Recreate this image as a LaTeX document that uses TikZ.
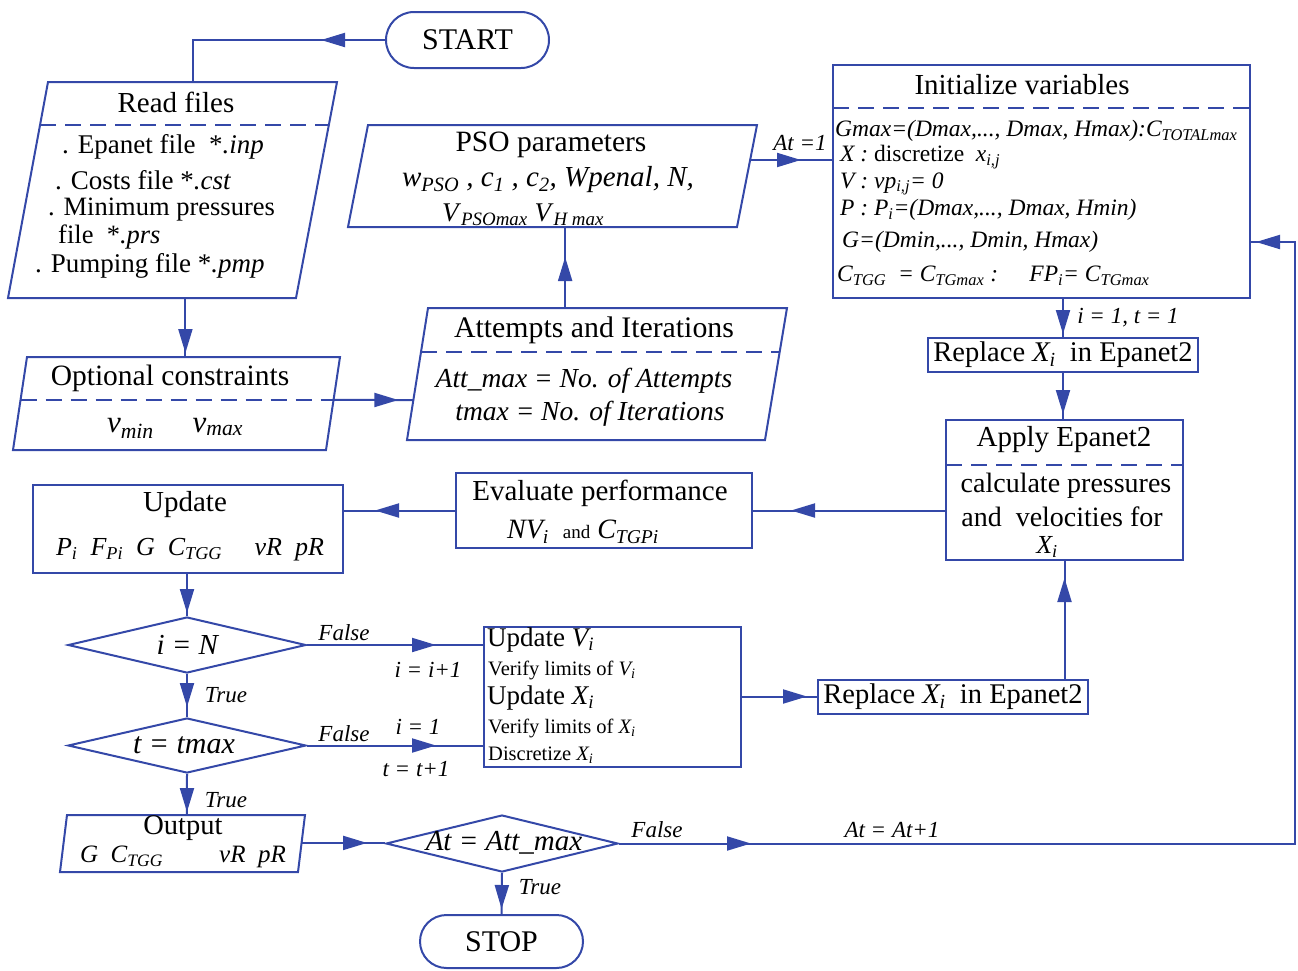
\documentclass[tikz,border=0pt]{standalone}
\usepackage{fontspec}
\setmainfont{Liberation Serif}
\usetikzlibrary{arrows.meta,decorations.markings,calc,shapes.geometric,shapes.misc}
\definecolor{fb}{RGB}{52,72,168}
\newcommand\ssb[1]{\textsubscript{#1}}
\newcommand\fsz[1]{\fontsize{#1}{#1}\selectfont}
\begin{document}
\begin{tikzpicture}[x=1pt,y=-1pt,
  ln/.style={draw=fb,line width=2pt},
  dsh/.style={draw=fb,line width=1.8pt,dash pattern=on 16pt off 9pt},
  rbox/.style={draw=fb,line width=2pt,inner sep=0pt},
  conn/.style={draw=fb,color=fb,line width=2pt},
  ma/.style={postaction={decorate,decoration={markings,mark=at position #1 with {\arrow{Triangle[length=24pt,width=14pt]}}}}},
  mb/.style 2 args={postaction={decorate,decoration={markings,mark=at position #1 with {\arrow{Triangle[length=24pt,width=14pt]}},mark=at position #2 with {\arrow{Triangle[length=24pt,width=14pt]}}}}},
  tt/.style={font=\fsz{29},inner sep=0pt},
  bd/.style={font=\fsz{27},inner sep=0pt},
  sm/.style={font=\fsz{23.5}\itshape,inner sep=0pt},
  lb/.style={font=\fsz{23}\itshape,inner sep=0pt},
  xs/.style={font=\fsz{20.5},inner sep=0pt},
  dia/.style={diamond,draw=fb,line width=2pt,inner sep=0pt}
]
\useasboundingbox (0,0) rectangle (1298,970);

% START
\node[rounded rectangle,draw=fb,line width=2pt,minimum width=163pt,minimum height=56pt,inner sep=0pt,font=\fsz{30}] (start) at (467.5,40) {START};

% Read files
\coordinate (rf-tl) at (48,82);
\coordinate (rf-tr) at (337,82);
\coordinate (rf-br) at (296,298);
\coordinate (rf-bl) at (8,298);
\draw[ln] (rf-tl) -- (rf-tr) -- (rf-br) -- (rf-bl) -- cycle;
\draw[dsh] ($(rf-tl)!0.2!(rf-bl)$) -- ($(rf-tr)!0.2!(rf-br)$);
\node[tt] (rf-t) at (176,102) {Read files};
\node[bd,anchor=west] (rf-1) at (62,147) {. Epanet file \ *\textit{.inp}};
\node[bd,anchor=west] (rf-2) at (55,180) {. Costs file *\textit{.cst}};
\node[font=\fsz{26.5},inner sep=0pt,anchor=west] (rf-3) at (48,210) {. Minimum pressures};
\node[font=\fsz{26.5},inner sep=0pt,anchor=west] (rf-4) at (58,237) {file \ *\textit{.prs}};
\node[bd,anchor=west] (rf-5) at (35,266) {. Pumping file *\textit{.pmp}};
\coordinate (rf-top) at ($(rf-tl)!0.5!(rf-tr)$);
\coordinate (rf-bot) at ($(rf-bl)!0.616!(rf-br)$);

% Optional constraints
\coordinate (op-tl) at (27,357);
\coordinate (op-tr) at (340,357);
\coordinate (op-br) at (326,450);
\coordinate (op-bl) at (13,450);
\draw[ln] (op-tl) -- (op-tr) -- (op-br) -- (op-bl) -- cycle;
\draw[dsh] ($(op-tl)!0.462!(op-bl)$) -- ($(op-tr)!0.462!(op-br)$);
\node[font=\fsz{29.5},inner sep=0pt] (op-t) at (170,378) {Optional constraints};
\node[font=\fsz{31},inner sep=0pt] (op-1) at (175,428) {\textit{v}\ssb{\textit{min}}\quad \ \textit{v}\ssb{\textit{max}}};
\coordinate (op-out) at ($(op-tr)!0.462!(op-br)$);

% Attempts and Iterations
\coordinate (at-tl) at (428,308);
\coordinate (at-tr) at (787,308);
\coordinate (at-br) at (765,440);
\coordinate (at-bl) at (407,440);
\draw[ln] (at-tl) -- (at-tr) -- (at-br) -- (at-bl) -- cycle;
\draw[dsh] ($(at-tl)!0.333!(at-bl)$) -- ($(at-tr)!0.333!(at-br)$);
\node[font=\fsz{29.8},inner sep=0pt] (at-t) at (594,330) {Attempts and Iterations};
\node[font=\fsz{27.5},inner sep=0pt] (at-1) at (584,381) {\textit{Att\_max = No. of Attempts}};
\node[font=\fsz{27.5},inner sep=0pt] (at-2) at (590,414) {\textit{tmax = No. of Iterations}};
\coordinate (at-in) at ($(at-tl)!0.697!(at-bl)$);
\coordinate (at-top) at ($(at-tl)!0.382!(at-tr)$);

% PSO parameters
\coordinate (ps-tl) at (368,125);
\coordinate (ps-tr) at (757,125);
\coordinate (ps-br) at (737,227);
\coordinate (ps-bl) at (348,227);
\draw[ln] (ps-tl) -- (ps-tr) -- (ps-br) -- (ps-bl) -- cycle;
\node[font=\fsz{29.5},inner sep=0pt] (ps-t) at (551,145) {PSO parameters};
\node[font=\fsz{29},inner sep=0pt] (ps-1) at (548,180) {\textit{w}\ssb{\textit{PSO}}\textit{ , c}\ssb{\textit{1}}\textit{ , c}\ssb{\textit{2}}\textit{, Wpenal, N,}};
\node[font=\fsz{27},inner sep=0pt] (ps-2) at (523,215) {\textit{V}\ssb{\textit{PSOmax}} \textit{V}\ssb{\textit{H max}}};
\coordinate (ps-out) at ($(ps-tr)!0.343!(ps-br)$);

% Initialize variables
\node[rbox,minimum width=417pt,minimum height=233pt] (init) at (1041.5,181.5) {};
\draw[dsh] (833,108) -- (1250,108);
\node[tt] (in-t) at (1022,85) {Initialize variables};
\node[sm,anchor=west] (in-1) at (835,131) {Gmax=(Dmax,..., Dmax, Hmax):C\ssb{TOTALmax}};
\node[sm,anchor=west] (in-2) at (840,157) {X :\upshape\ discretize \ \itshape x\ssb{i,j}};
\node[sm,anchor=west] (in-3) at (840,184) {V : vp\ssb{i,j}= 0};
\node[sm,anchor=west] (in-4) at (840,210) {P : P\ssb{i}=(Dmax,..., Dmax, Hmin)};
\node[sm,anchor=west] (in-5) at (842,242) {G=(Dmin,..., Dmin, Hmax)};
\node[sm,anchor=west] (in-6) at (837,276) {C\ssb{TGG} \ = C\ssb{TGmax} : \quad FP\ssb{i}= C\ssb{TGmax}};

% Replace 1
\node[rbox,minimum width=270pt,minimum height=34pt,font=\fsz{28.5}] (rp1) at (1063,355) {Replace \textit{X\ssb{i}} \ in Epanet2};

% Apply Epanet2
\node[rbox,minimum width=237pt,minimum height=140pt] (ap) at (1064.5,490) {};
\draw[dsh] (946,465) -- (1183,465);
\node[tt] (ap-t) at (1064,440) {Apply Epanet2};
\node[font=\fsz{28},inner sep=0pt] (ap-1) at (1066,486) {calculate pressures};
\node[font=\fsz{28},inner sep=0pt] (ap-2) at (1062,517) {and \ velocities for};
\node[font=\fsz{26},inner sep=0pt] (ap-3) at (1047,547) {\textit{X\ssb{i}}};

% Evaluate performance
\node[rbox,minimum width=296pt,minimum height=75pt] (ev) at (604,510.5) {};
\node[tt] (ev-t) at (600,493) {Evaluate performance};
\node[font=\fsz{28},inner sep=0pt] (ev-1) at (583,532) {\textit{NV\ssb{i}} \ {\fsz{19}and} \textit{C\ssb{TGPi}}};

% Update
\node[rbox,minimum width=310pt,minimum height=88pt] (up) at (188,529) {};
\node[tt] (up-t) at (185,505) {Update};
\node[font=\fsz{26},inner sep=0pt] (up-1) at (190,550) {\textit{P\ssb{i} \ F\ssb{Pi} \ G \ C\ssb{TGG} \quad vR \ pR}};

% diamonds
\node[dia,minimum width=238pt,minimum height=56pt] (d1) at (187,645) {};
\node[font=\fsz{29},inner sep=0pt] (d1-t) at (188,645) {\textit{i = N}};
\node[dia,minimum width=238pt,minimum height=55pt] (d2) at (187,745.5) {};
\node[font=\fsz{30},inner sep=0pt] (d2-t) at (184,745) {\textit{t = tmax}};

% Update V/X box
\node[rbox,minimum width=257pt,minimum height=140pt] (ub) at (612.5,697) {};
\node[bd,anchor=west] (ub-1) at (487,640) {Update \textit{V\ssb{i}}};
\node[xs,anchor=west] (ub-2) at (488,670) {Verify limits of \textit{V\ssb{i}}};
\node[bd,anchor=west] (ub-3) at (487,698) {Update \textit{X\ssb{i}}};
\node[xs,anchor=west] (ub-4) at (488,728) {Verify limits of \textit{X\ssb{i}}};
\node[xs,anchor=west] (ub-5) at (488,755) {Discretize \textit{X\ssb{i}}};

% Replace 2
\node[rbox,minimum width=270pt,minimum height=34pt,font=\fsz{28.5}] (rp2) at (953,696.5) {Replace \textit{X\ssb{i}} \ in Epanet2};

% Output
\coordinate (ou-tl) at (67,815);
\coordinate (ou-tr) at (305,815);
\coordinate (ou-br) at (298,872);
\coordinate (ou-bl) at (60,872);
\draw[ln] (ou-tl) -- (ou-tr) -- (ou-br) -- (ou-bl) -- cycle;
\node[font=\fsz{28.5},inner sep=0pt] (ou-t) at (183,828) {Output};
\node[font=\fsz{25},inner sep=0pt] (ou-1) at (183,857) {\textit{G \ C\ssb{TGG} \qquad vR \ pR}};
\coordinate (ou-top) at ($(ou-tl)!0.504!(ou-tr)$);
\coordinate (ou-out) at ($(ou-tr)!0.49!(ou-br)$);

% At = Att_max
\node[dia,minimum width=232pt,minimum height=57pt] (d3) at (502,843.5) {};
\node[font=\fsz{29},inner sep=0pt] (d3-t) at (504,843) {\textit{At = Att\_max}};

% STOP
\node[rounded rectangle,draw=fb,line width=2pt,minimum width=163pt,minimum height=53pt,inner sep=0pt,font=\fsz{30}] (stop) at (501.5,941.5) {STOP};

\coordinate (rtx) at (1295,242);

% connectors
\draw[conn,ma=64pt] (start.west) -| (rf-top);
\draw[conn,ma=-4pt] (rf-bot) -- (rf-bot |- op-tl);
\draw[conn,ma=-15pt] (op-out) -- (at-in);
\draw[conn,ma=-30pt] (at-top) -- (at-top |- ps-bl);
\draw[conn,ma=-31pt] (ps-out) -- (ps-out -| init.west);
\draw[conn,ma=-3pt] (rp1.north |- init.south) -- (rp1.north);
\draw[conn,ma=-5pt] (rp1.south) -- (rp1.south |- ap.north);
\draw[conn,ma=-38pt] (ap.west |- ev.east) -- (ev.east);
\draw[conn,ma=-31pt] (ev.west) -- (ev.west -| up.east);
\draw[conn,ma=-3pt] (up.south -| d1.north) -- (d1.north);
\draw[conn,ma=-47pt] (d1.east) -- (d1.east -| ub.west);
\draw[conn,ma=-10pt] (d1.south) -- (d2.north);
\draw[conn,ma=-47pt] (d2.east) -- (d2.east -| ub.west);
\draw[conn,ma=-10pt] (ub.east |- rp2.west) -- (rp2.west);
\draw[conn,ma=-17pt] (ap.south |- rp2.north) -- (ap.south);
\draw[conn,ma=-3pt] (d2.south) -- (ou-top);
\draw[conn,ma=-18pt] (ou-out) -- (ou-out -| d3.west);
\draw[conn,mb={132pt}{-5pt}] (d3.east) -| (rtx) -- (rtx -| init.east);
\draw[conn,ma=-5pt] (d3.south) -- (stop.north);

% labels
\node[lb] (l-at1) at (800,143) {At =1};
\node[lb] (l-it1) at (1128,318) {i = 1, t = 1};
\node[lb] (l-f1) at (344,633) {False};
\node[lb] (l-ii) at (428,670) {i = i+1};
\node[lb] (l-t1) at (226,695) {True};
\node[lb] (l-f2) at (344,734) {False};
\node[lb] (l-i1) at (418,727) {i = 1};
\node[lb] (l-tt) at (416,769) {t = t+1};
\node[lb] (l-t2) at (226,800) {True};
\node[lb] (l-f3) at (657,830) {False};
\node[lb] (l-aa) at (892,830) {At = At+1};
\node[lb] (l-t3) at (540,887) {True};
\end{tikzpicture}
\end{document}
